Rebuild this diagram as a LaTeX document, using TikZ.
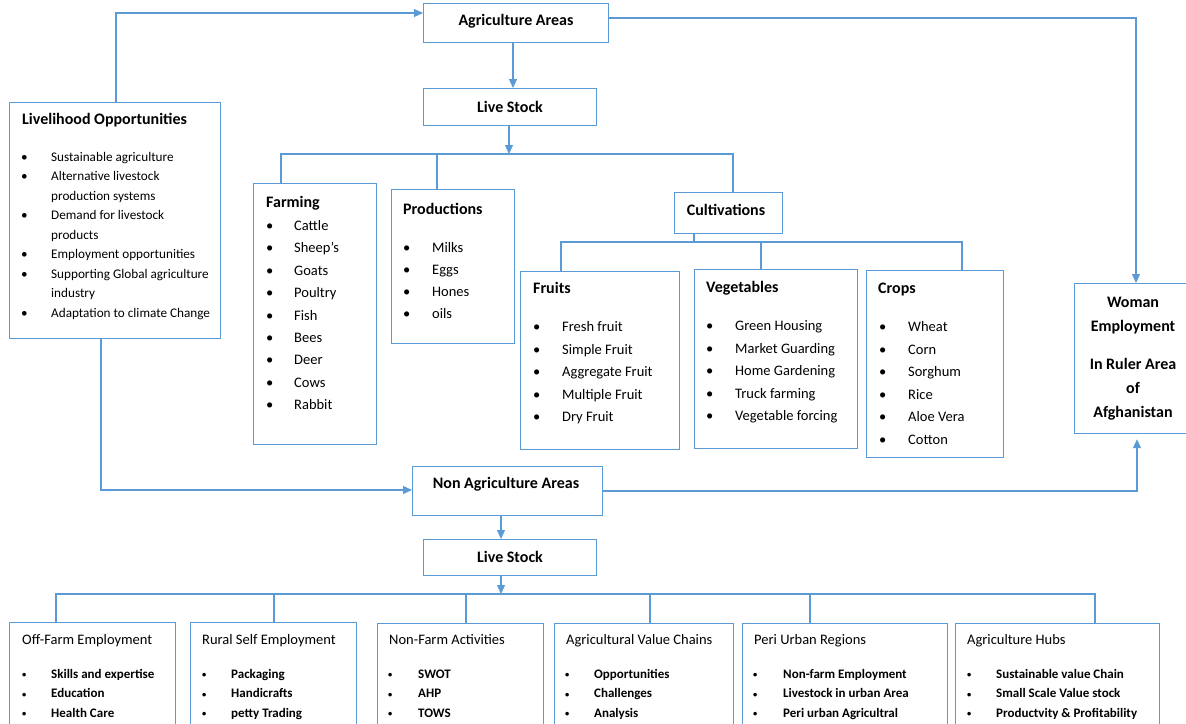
\documentclass[tikz,border=0pt]{standalone}
\usepackage{fontspec}
\usepackage{graphicx}
\setmainfont{Carlito}
\usetikzlibrary{arrows.meta}
\definecolor{lb}{HTML}{5B9BD5}
\newcommand{\sbul}{\raisebox{0.5pt}{\scalebox{0.65}{•}}}
\begin{document}
\begin{tikzpicture}[x=1pt,y=-1pt,
  box/.style={draw=lb, line width=1.2pt, inner sep=0pt, anchor=north west},
  conn/.style={draw=lb, line width=1.2pt},
  arr/.style={conn, -{Triangle[length=9pt,width=8pt]}},
  ttl/.style={font=\fontsize{16}{19}\selectfont\bfseries, inner sep=0pt},
  ttlw/.style={ttl, anchor=base west},
  lst/.style={inner sep=0pt, anchor=base west, font=\fontsize{14.5}{22.4}\selectfont},
  lsts/.style={inner sep=0pt, anchor=base west, font=\fontsize{13.2}{19.5}\selectfont},
  btl/.style={inner sep=0pt, anchor=base west, font=\fontsize{14.5}{17}\selectfont},
  bls/.style={inner sep=0pt, anchor=base west, font=\fontsize{13}{19.5}\selectfont\bfseries}
]
\useasboundingbox (0,0) rectangle (1186,723);

% ---------- boxes ----------
\node[box, minimum width=185pt, minimum height=39pt] (agri) at (423,3) {};
\node[box, minimum width=173pt, minimum height=37pt] (live1) at (423,88) {};
\node[box, minimum width=211pt, minimum height=236pt] (liv) at (9,102) {};
\node[box, minimum width=123pt, minimum height=261pt] (farm) at (253,183) {};
\node[box, minimum width=123pt, minimum height=154pt] (prod) at (391,189) {};
\node[box, minimum width=108pt, minimum height=41pt] (cult) at (674,192) {};
\node[box, minimum width=159pt, minimum height=178pt] (fruit) at (520,271) {};
\node[box, minimum width=163pt, minimum height=179pt] (veg) at (694,269) {};
\node[box, minimum width=137pt, minimum height=187pt] (crops) at (866,270) {};
\node[box, minimum width=118pt, minimum height=150pt] (woman) at (1074,283) {};
\node[box, minimum width=190pt, minimum height=49pt] (nonagri) at (412,466) {};
\node[box, minimum width=173pt, minimum height=36pt] (live2) at (423,539) {};
\node[box, minimum width=166pt, minimum height=120pt] (off) at (9,622) {};
\node[box, minimum width=166pt, minimum height=120pt] (rural) at (190,622) {};
\node[box, minimum width=166pt, minimum height=120pt] (nfa) at (377,623) {};
\node[box, minimum width=179pt, minimum height=120pt] (avc) at (554,623) {};
\node[box, minimum width=205pt, minimum height=120pt] (peri) at (742,623) {};
\node[box, minimum width=204pt, minimum height=120pt] (hubs) at (955,623) {};

% ---------- connector points ----------
\coordinate (p1) at (116,13);
\coordinate (p2) at (1136,18);
\coordinate (p3) at (513,0);
\coordinate (b1) at (509,154);
\coordinate (b1l) at (281,154);
\coordinate (b1m) at (437,154);
\coordinate (b1r) at (733,154);
\coordinate (b2) at (694,242);
\coordinate (b2l) at (561,242);
\coordinate (b2m) at (761,242);
\coordinate (b2r) at (962,242);
\coordinate (p4) at (101,490);
\coordinate (p5) at (1137,491);
\coordinate (p6) at (501,0);
\coordinate (b3) at (501,594);
\coordinate (d1) at (56,594);
\coordinate (d2) at (274,594);
\coordinate (d3) at (466,594);
\coordinate (d4) at (650,594);
\coordinate (d5) at (810,594);
\coordinate (d6) at (1095,594);

% ---------- connectors ----------
\draw[arr] (p1 |- liv.north) -- (p1) -- (p1 -| agri.west);
\draw[arr] (p2 -| agri.east) -- (p2) -- (p2 |- woman.north);
\draw[arr] (p3 |- agri.south) -- (p3 |- live1.north);
\draw[arr] (b1 |- live1.south) -- (b1);
\draw[conn] (b1l |- farm.north) -- (b1l) -- (b1r) -- (b1r |- cult.north);
\draw[conn] (b1m) -- (b1m |- prod.north);
\draw[conn] (b2 |- cult.south) -- (b2);
\draw[conn] (b2l |- fruit.north) -- (b2l) -- (b2r) -- (b2r |- crops.north);
\draw[conn] (b2m) -- (b2m |- veg.north);
\draw[arr] (p4 |- liv.south) -- (p4) -- (p4 -| nonagri.west);
\draw[arr] (p5 -| nonagri.east) -- (p5) -- ([yshift=-5pt]p5 |- woman.south);
\draw[arr] (p6 |- nonagri.south) -- (p6 |- live2.north);
\draw[arr] (b3 |- live2.south) -- (b3);
\draw[conn] (d1 |- off.north) -- (d1) -- (d6) -- (d6 |- hubs.north);
\draw[conn] (d2) -- (d2 |- rural.north);
\draw[conn] (d3) -- (d3 |- nfa.north);
\draw[conn] (d4) -- (d4 |- avc.north);
\draw[conn] (d5) -- (d5 |- peri.north);

% ---------- texts ----------
\node[ttl] (agriT) at (516,21) {Agriculture Areas};
\node[ttl] (live1T) at (510,107) {Live Stock};
\node[ttl] (cultT) at (726,210) {Cultivations};
\node[ttl] (nonagriT) at (506,484) {Non Agriculture Areas};
\node[ttl] (live2T) at (510,557) {Live Stock};

\node[ttlw] (livT) at (22,124) {Livelihood Opportunities};
\node[lsts] (livL) at (21,161) {\begin{tabular}[t]{@{}p{30pt}@{}l@{}}
• & Sustainable agriculture\\
• & Alternative livestock\\
  & production systems\\
• & Demand for livestock\\
  & products\\
• & Employment opportunities\\
• & Supporting Global agriculture\\
  & industry\\
• & Adaptation to climate Change
\end{tabular}};

\node[ttlw] (farmT) at (266,207) {Farming};
\node[lst] (farmL) at (266,230.5) {\begin{tabular}[t]{@{}p{28pt}@{}l@{}}
• & Cattle\\ • & Sheep’s\\ • & Goats\\ • & Poultry\\ • & Fish\\ • & Bees\\ • & Deer\\ • & Cows\\ • & Rabbit
\end{tabular}};

\node[ttlw] (prodT) at (403,214) {Productions};
\node[lst, font=\fontsize{14.5}{22}\selectfont] (prodL) at (403,252.5) {\begin{tabular}[t]{@{}p{29pt}@{}l@{}}
• & Milks\\ • & Eggs\\ • & Hones\\ • & oils
\end{tabular}};

\node[ttlw] (fruitT) at (533,293) {Fruits};
\node[lst, font=\fontsize{14.5}{22.5}\selectfont] (fruitL) at (533,331.5) {\begin{tabular}[t]{@{}p{29pt}@{}l@{}}
• & Fresh fruit\\ • & Simple Fruit\\ • & Aggregate Fruit\\ • & Multiple Fruit\\ • & Dry Fruit
\end{tabular}};

\node[ttlw] (vegT) at (706,292) {Vegetables};
\node[lst, font=\fontsize{14.5}{22.5}\selectfont] (vegL) at (706,330.5) {\begin{tabular}[t]{@{}p{29pt}@{}l@{}}
• & Green Housing\\ • & Market Guarding\\ • & Home Gardening\\ • & Truck farming\\ • & Vegetable forcing
\end{tabular}};

\node[ttlw] (cropsT) at (878,293) {Crops};
\node[lst, font=\fontsize{14.5}{22.6}\selectfont] (cropsL) at (879,331.5) {\begin{tabular}[t]{@{}p{29pt}@{}l@{}}
• & Wheat\\ • & Corn\\ • & Sorghum\\ • & Rice\\ • & Aloe Vera\\ • & Cotton
\end{tabular}};

\node[ttl, anchor=base, font=\fontsize{16}{24}\selectfont\bfseries] (womanT) at (1133,307) {\begin{tabular}[t]{@{}c@{}}
Woman\\ Employment\\[14pt] In Ruler Area\\ of\\ Afghanistan
\end{tabular}};

% bottom row
\node[btl] (offT) at (22,644) {Off-Farm Employment};
\node[bls] (offL) at (22,678) {\begin{tabular}[t]{@{}p{29pt}@{}l@{}}
\sbul & Skills and expertise\\ \sbul & Education\\ \sbul & Health Care
\end{tabular}};
\node[btl] (ruralT) at (202,644) {Rural Self Employment};
\node[bls] (ruralL) at (202,678) {\begin{tabular}[t]{@{}p{29pt}@{}l@{}}
\sbul & Packaging\\ \sbul & Handicrafts\\ \sbul & petty Trading
\end{tabular}};
\node[btl] (nfaT) at (389,644) {Non-Farm Activities};
\node[bls] (nfaL) at (388,678) {\begin{tabular}[t]{@{}p{30pt}@{}l@{}}
\sbul & SWOT\\ \sbul & AHP\\ \sbul & TOWS
\end{tabular}};
\node[btl] (avcT) at (566,644) {Agricultural Value Chains};
\node[bls] (avcL) at (565,678) {\begin{tabular}[t]{@{}p{29pt}@{}l@{}}
\sbul & Opportunities\\ \sbul & Challenges\\ \sbul & Analysis
\end{tabular}};
\node[btl] (periT) at (754,644) {Peri Urban Regions};
\node[bls] (periL) at (753,678) {\begin{tabular}[t]{@{}p{30pt}@{}l@{}}
\sbul & Non-farm Employment\\ \sbul & Livestock in urban Area\\ \sbul & Peri urban Agricultral
\end{tabular}};
\node[btl] (hubsT) at (967,644) {Agriculture Hubs};
\node[bls] (hubsL) at (967,678) {\begin{tabular}[t]{@{}p{29pt}@{}l@{}}
\sbul & Sustainable value Chain\\ \sbul & Small Scale Value stock\\ \sbul & Productvity \& Profitability
\end{tabular}};
\end{tikzpicture}
\end{document}
